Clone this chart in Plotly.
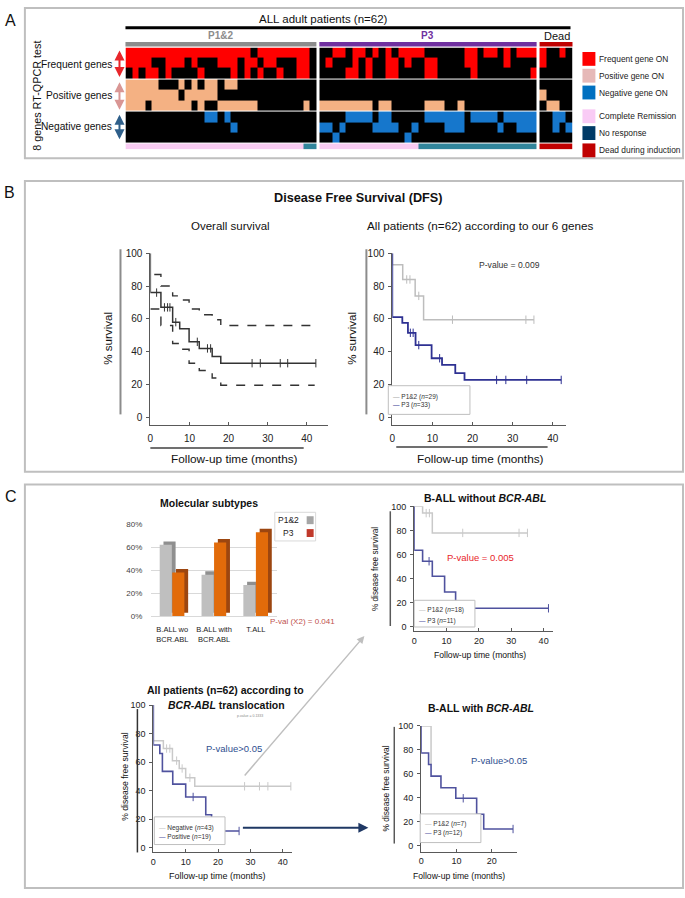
import plotly.graph_objects as go

W, H = 685, 898
NARROW = "Liberation Sans, Arial, sans-serif"
REG = "Liberation Sans, Arial, sans-serif"

# ============================ DATA ============================
# ---- Panel A: 8-gene RT-QPCR heatmap (1 = gene ON) ----
group_names = ["P1&2", "P3", "Dead"]
group_sizes = [29, 33, 5]

frequent_p12 = ["1111111111111111111 0 11111111 0",
                "1111 00 111 0 1 000 111 0 11 0 11 000 11 0",
                "0 1 0 11 0 1 0000 1 0000 1 0 1 0 1 00 1 00 11 0"]
positive_p12 = ["11111 000 1 0 1 0 11 0 11 000000000000",
                "11111111 0 11111 000000000000000",
                "111 0 111111 0 1 00 111111 0000000 1 0"]
negative_p12 = ["000000000000 11 0 1 0000000000000",
                "0000000000000000 1 000000000000",
                "00000000000000000000000000000"]

frequent_p3 = ["00 11 0 11 0 1 0 1 0 1111 000000 11 0 11 0 1 0 111",
               "0 1 000 1 0 1 00 11 0 1 00 11 0000 11 0000 1 0000",
               "0000 11 0 1 00 11 0000 11 00000 1 00000000 1"]
positive_p3 = ["000000000000000000000000000000000",
               "000000000000000000000000000000000",
               "11111111 0 11 00000 111 00 1 00000000000"]
negative_p3 = ["0000 1111 0 11 00000 111111 0 1111 0 11111",
               "11 0 1 0000 1111 00 1 0000 111 00000 1 00 111",
               "00 1 0000000000 1 0000000000000000000"]

frequent_dead = ["10010", "10000", "00000"]
positive_dead = ["00000", "10000", "01100"]
negative_dead = ["00110", "00101", "00000"]

# response to treatment: C = complete remission, N = no response, D = dead during induction
response_p12 = "C" * 27 + "N" * 2
response_p3 = "C" * 15 + "N" * 18
response_dead = "D" * 5

# ---- Panel B: Kaplan-Meier DFS ----
os_times = [0, 2.7, 5.7, 7.5, 9.9, 12.5, 15.8, 18.0]
os_surv = [76, 67, 58, 54, 46, 42, 37, 33]
os_end = 42.3
os_censor = [1.6, 3.6, 4.4, 5.0, 6.5, 12.0, 14.6, 15.4, 26.0, 28.1, 33.2, 35.1, 42.3]
os_ci_up_times = [1.0, 2.7, 5.7, 7.5, 9.9, 12.5, 15.8, 18.0]
os_ci_up_surv = [87, 80, 74, 71.5, 66, 62.5, 59.5, 56]
os_ci_up_end = 41.0
os_ci_lo_times = [0, 2.7, 5.7, 7.5, 9.9, 12.5, 15.8, 18.0]
os_ci_lo_surv = [66, 56, 45, 41.5, 33, 28.5, 24, 19.6]
os_ci_lo_end = 42.0

genes_p12_times = [0, 2.6, 5.7, 7.8]
genes_p12_surv = [93, 84, 74, 59.5]
genes_p12_end = 35.3
genes_p12_censor = [3.6, 4.4, 6.6, 15.0, 33.3, 35.3]
genes_p3_times = [0, 2.5, 3.9, 5.8, 9.8, 12.4, 15.7, 18.0]
genes_p3_surv = [61, 57.5, 51.5, 44, 36, 32, 27, 22.8]
genes_p3_end = 42.1
genes_p3_censor = [4.5, 5.2, 6.6, 11.8, 26.0, 28.3, 33.5, 42.1]

# ---- Panel C: molecular subtypes ----
subtype_labels = ["B.ALL wo<br>BCR.ABL", "B.ALL with<br>BCR.ABL", "T.ALL"]
subtype_p12 = [62, 36, 27]
subtype_p3 = [38, 64, 73]
pct_ticks = [0, 20, 40, 60, 80]

bcr_neg_times = [0, 3.1, 5.9, 8.0, 10.0, 12.8]
bcr_neg_surv = [75, 69.5, 61, 55.5, 49, 43]
bcr_neg_end = 42.5
bcr_neg_censor = [4.1, 5.1, 7.2, 8.9, 11.3, 28.2, 32.8, 35.4, 42.5]
bcr_pos_times = [0, 2.0, 2.8, 6.0, 10.0, 16.2, 18.0]
bcr_pos_surv = [72, 66, 53.5, 44.5, 35.5, 23, 11.6]
bcr_pos_end = 26.5
bcr_pos_censor = [12.3, 26.5]

wo_p12_times = [2.6, 5.6]
wo_p12_surv = [94.4, 78]
wo_p12_end = 35.0
wo_p12_censor = [3.7, 4.7, 15.0, 32.4, 35.0]
wo_p3_times = [0, 2.6, 5.6, 9.4, 12.8]
wo_p3_surv = [63.6, 54.5, 42, 29, 15.5]
wo_p3_end = 41.5
wo_p3_censor = [4.6, 41.5]

with_p12_times = [2.8]
with_p12_surv = [67.7]
with_p12_end = 2.8
with_p12_censor = []
with_p3_times = [0, 2.1, 2.8, 5.6, 9.8, 15.7, 17.7]
with_p3_surv = [77.3, 67.7, 58, 48.3, 39.5, 26.2, 13.8]
with_p3_end = 26.0
with_p3_censor = [11.9, 26.0]

# ============================ HELPERS ============================
def X(p):
    return p / W


def Y(p):
    return 1 - p / H


shapes = []
annotations = []


def rect(x0, y0, x1, y1, line="#BFBFBF", width=2, fill="rgba(0,0,0,0)"):
    shapes.append(dict(type="rect", xref="paper", yref="paper", x0=X(x0), x1=X(x1),
                       y0=Y(y1), y1=Y(y0), line=dict(color=line, width=width), fillcolor=fill))


def seg(x0, y0, x1, y1, color="#000", width=1.5):
    shapes.append(dict(type="line", xref="paper", yref="paper", x0=X(x0), x1=X(x1),
                       y0=Y(y0), y1=Y(y1), line=dict(color=color, width=width)))


def text(x, y, s, size, color="#111", anchor="center", angle=0, family=NARROW):
    annotations.append(dict(x=X(x), y=Y(y), xref="paper", yref="paper", text=s, showarrow=False,
                            xanchor=anchor, yanchor="middle", textangle=angle, borderpad=0,
                            font=dict(family=family, size=size, color=color)))


def arrow(x_head, y_head, x_tail, y_tail, color, width, both=False):
    annotations.append(dict(x=X(x_head), y=Y(y_head), xref="paper", yref="paper", text="",
                            showarrow=True, ax=x_tail - x_head, ay=y_tail - y_head,
                            axref="pixel", ayref="pixel", arrowhead=2, arrowsize=1,
                            arrowwidth=width, arrowcolor=color,
                            arrowside="end+start" if both else "end"))


fig = go.Figure()

# ============================ PANEL A ============================
COL_GAP = 0.45
xedges = [0.0]
group_span = []
for gi, n in enumerate(group_sizes):
    s0 = xedges[-1]
    for _ in range(n):
        xedges.append(xedges[-1] + 1.0)
    group_span.append((s0, xedges[-1]))
    if gi < len(group_sizes) - 1:
        xedges.append(xedges[-1] + COL_GAP)
ncols = len(xedges) - 1

gene_data = {
    "F": {"P1&2": frequent_p12, "P3": frequent_p3, "Dead": frequent_dead},
    "P": {"P1&2": positive_p12, "P3": positive_p3, "Dead": positive_dead},
    "N": {"P1&2": negative_p12, "P3": negative_p3, "Dead": negative_dead},
}
response = {"P1&2": response_p12, "P3": response_p3, "Dead": response_dead}
on_code = {"F": 1, "P": 2, "N": 3}
resp_code = {"C": 4, "N": 5, "D": 6}


def build_row(spec):
    if spec is None:
        return [None] * ncols
    kind, idx = spec
    vals = []
    for gi, g in enumerate(group_names):
        n = group_sizes[gi]
        if kind == "R":
            s = (response[g] + "C" * n)[:n]
            vals += [resp_code[ch] for ch in s]
        else:
            s = (gene_data[kind][g][idx].replace(" ", "") + "0" * n)[:n]
            vals += [on_code[kind] if ch == "1" else 0 for ch in s]
        if gi < len(group_names) - 1:
            vals.append(None)
    return vals


row_specs = [("R", 0), None, ("N", 2), ("N", 1), ("N", 0), None,
             ("P", 2), ("P", 1), ("P", 0), None, ("F", 2), ("F", 1), ("F", 0)]
row_h = [0.55, 0.12, 1, 1, 1, 0.15, 1, 1, 1, 0.15, 1, 1, 1]
yedges = [0.0]
for h in row_h:
    yedges.append(yedges[-1] + h)
z = [build_row(s) for s in row_specs]

cat_colors = ["#000000", "#FF0000", "#F4B183", "#1677CC", "#F8CBF2", "#31859B", "#C00000"]
cs = []
for k, c in enumerate(cat_colors):
    cs.append([k / len(cat_colors), c])
    cs.append([(k + 1) / len(cat_colors), c])

fig.add_trace(go.Heatmap(z=z, x=xedges, y=yedges, colorscale=cs, zmin=-0.5, zmax=6.5,
                         showscale=False, hoverinfo="skip", xaxis="x", yaxis="y"))

HX0, HX1 = 123, 572


def hx(u):
    return HX0 + u * (HX1 - HX0) / xedges[-1]


rect(22, 3, 683, 155)
text(8, 16, "A", 16, "#111", family=REG)
seg(hx(0), 23, hx(xedges[-1]) - 2, 23, "#000", 3)
text(322, 14, "ALL adult patients (n=62)", 11.5)
bar_cols = ["#8C8C8C", "#7030A0", "#C00000"]
lab_cols = ["#8C8C8C", "#7030A0", "#111"]
for gi, (s0, s1) in enumerate(group_span):
    rect(hx(s0), 37.5, hx(s1), 42, line=bar_cols[gi], width=0, fill=bar_cols[gi])
    if group_names[gi] == "Dead":
        text(hx((s0 + s1) / 2) + 1, 31, group_names[gi], 11, lab_cols[gi])
    else:
        text(hx((s0 + s1) / 2), 31, "<b>%s</b>" % group_names[gi], 10, lab_cols[gi])

text(34, 92, "8 genes RT-QPCR test", 10.8, angle=-90)
text(110, 60, "Frequent genes", 10.2, anchor="right")
text(110, 92, "Positive genes", 10.2, anchor="right")
text(110, 123, "Negative genes", 10.2, anchor="right")
arrow(117, 46, 117, 74, "#E8262B", 2, both=True)
arrow(117, 78, 117, 107, "#D99694", 2, both=True)
arrow(117, 111, 117, 137, "#2E5F8A", 2, both=True)

legA = [("Frequent gene ON", "#FF0000", 54.5), ("Positive gene ON", "#E6B9B8", 71.5),
        ("Negative gene ON", "#0070C0", 88.5), ("Complete Remission", "#F9CBF5", 112.5),
        ("No response", "#003A66", 129.5), ("Dead during induction", "#C00000", 147)]
for lab, col, yy in legA:
    rect(582, yy - 7, 595, yy + 7, line=col, width=0, fill=col)
    text(598, yy, lab, 8.4, "#222", anchor="left")

layout_axes = {
    "xaxis": dict(domain=[X(HX0), X(HX1)], range=[0, xedges[-1]], visible=False),
    "yaxis": dict(domain=[Y(146), Y(43)], range=[0, yedges[-1]], visible=False),
}


# ============================ KM helpers ============================
def km_axes(n, x0, ppm, xmax, y100, y0, ymin, xticks, tsize, lc="#595959", xstand=4):
    ppu = (y0 - y100) / 100.0
    ybot = y0 + (-ymin) * ppu
    tf = dict(family=NARROW, size=tsize, color="#222")
    layout_axes["xaxis%d" % n] = dict(domain=[X(x0), X(x0 + xmax * ppm)], range=[0, xmax],
                                     anchor="y%d" % n, showline=True, linecolor=lc, linewidth=1,
                                     ticks="inside", ticklen=3, tickcolor=lc, tickvals=xticks,
                                     showgrid=False, zeroline=False, tickfont=tf,
                                     ticklabelstandoff=xstand)
    layout_axes["yaxis%d" % n] = dict(domain=[Y(ybot), Y(y100)], range=[ymin, 100],
                                     anchor="x%d" % n, showline=True, linecolor=lc, linewidth=1,
                                     ticks="outside", ticklen=3, tickcolor=lc,
                                     tickvals=[0, 20, 40, 60, 80, 100], showgrid=False,
                                     zeroline=False, tickfont=tf, ticklabelstandoff=2)


def level_at(times, levels, t, start=100.0):
    v = start
    for ti, lv in zip(times, levels):
        if ti <= t:
            v = lv
    return v


def km_curve(n, times, levels, end, censor, color, width=1.5, dash="solid", start=100.0, from0=True):
    if from0:
        xs = [0.0] + list(times) + [end]
        ys = [start] + list(levels) + [levels[-1]]
    else:
        xs = list(times) + [end]
        ys = list(levels) + [levels[-1]]
    fig.add_trace(go.Scatter(x=xs, y=ys, mode="lines", line=dict(color=color, width=width,
                             dash=dash, shape="hv"), xaxis="x%d" % n, yaxis="y%d" % n,
                             cliponaxis=False, hoverinfo="skip"))
    if censor:
        fig.add_trace(go.Scatter(x=censor, y=[level_at(times, levels, t) for t in censor],
                                 mode="markers", marker=dict(symbol="line-ns", size=6,
                                 line=dict(width=1, color=color)),
                                 xaxis="x%d" % n, yaxis="y%d" % n, cliponaxis=False,
                                 hoverinfo="skip"))


def legend_box(x0, y0, x1, y1, entries, size):
    rect(x0, y0, x1, y1, line="#BFBFBF", width=1, fill="white")
    for lab, col, yy in entries:
        text(x0 + 4, yy, "<span style='color:%s'>\u2014</span> %s" % (col, lab), size,
             "#333", anchor="left")


# ============================ PANEL B ============================
rect(22, 178, 683, 472)
text(7, 190, "B", 16, "#111", family=REG)
text(357, 195, "<b>Disease Free Survival (DFS)</b>", 12.7)
text(229, 223, "Overall survival", 11.5)
text(480, 223, "All patients (n=62) according to our 6 genes", 11.7)

km_axes(2, 148, 3.93, 45.5, 251, 417, -4.5, [0, 10, 20, 30, 40], 10)
km_curve(2, os_ci_up_times, os_ci_up_surv, os_ci_up_end, [], "#333333", 1.4, "dash", from0=False)
km_curve(2, os_ci_lo_times, os_ci_lo_surv, os_ci_lo_end, [], "#333333", 1.4, "dash", from0=False)
km_curve(2, os_times, os_surv, os_end, os_censor, "#333333", 1.5)
seg(118, 247, 118, 414, "#8C8C8C", 2)
text(105, 337, "% survival", 11.6, angle=-90)
seg(148, 448, 302, 448, "#404040", 1.5)
text(233, 459, "Follow-up time (months)", 11.8)

km_axes(3, 391, 4.03, 43.3, 251, 417, -4.5, [0, 10, 20, 30, 40], 10)
km_curve(3, genes_p12_times, genes_p12_surv, genes_p12_end, genes_p12_censor, "#BDBDBD", 1.5)
km_curve(3, genes_p3_times, genes_p3_surv, genes_p3_end, genes_p3_censor, "#2E3192", 1.8)
seg(365, 247, 365, 414, "#8C8C8C", 2)
text(350, 337, "% survival", 11.6, angle=-90)
seg(395, 447, 547, 447, "#404040", 1.5)
text(480, 459, "Follow-up time (months)", 11.8)
text(509, 263, "P-value = 0.009", 8.6, "#333")
legend_box(387, 385, 469, 414, [("P1&2 (<i>n</i>=29)", "#A6A6A6", 396),
                                 ("P3 (<i>n</i>=33)", "#2E3192", 405)], 6.5)

# ============================ PANEL C ============================
rect(22, 485, 683, 893)
text(8, 497, "C", 16, "#111", family=REG)

# molecular subtypes bar chart
text(207, 504, "<b>Molecular subtypes</b>", 10.5)
idx = list(range(len(subtype_labels)))
for vals, front, side, off in [(subtype_p12, "#BFBFBF", "#8F8F8F", -0.3),
                               (subtype_p3, "#E26B0A", "#9C4610", 0.0)]:
    fig.add_trace(go.Bar(x=idx, y=vals, base=[3] * len(vals), offset=off + 0.09, width=0.29,
                         marker=dict(color=side, line=dict(width=0)), xaxis="x4", yaxis="y4",
                         hoverinfo="skip"))
    fig.add_trace(go.Bar(x=idx, y=vals, offset=off, width=0.29,
                         marker=dict(color=front, line=dict(width=0)), xaxis="x4", yaxis="y4",
                         hoverinfo="skip"))
layout_axes["xaxis4"] = dict(domain=[X(149), X(275)], range=[-0.5, 2.5], anchor="y4",
                             tickvals=idx, ticktext=subtype_labels, showline=True,
                             linecolor="#D9D9D9", showgrid=False, zeroline=False, ticks="",
                             tickangle=0,
                             tickfont=dict(family=NARROW, size=7.5, color="#222"),
                             ticklabelstandoff=6)
layout_axes["yaxis4"] = dict(domain=[Y(618), Y(525)], range=[0, 80], anchor="x4",
                             tickvals=pct_ticks, ticktext=["%d%%" % v for v in pct_ticks],
                             showgrid=True, gridcolor="#D9D9D9", zeroline=False,
                             showline=False, ticks="",
                             tickfont=dict(family=NARROW, size=8, color="#444"),
                             ticklabelstandoff=8)
rect(273, 513, 314, 542, line="#D9D9D9", width=1)
text(287, 521, "P1&2", 8.5, "#222")
rect(305, 517, 312, 525, line="#A6A6A6", width=0, fill="#A6A6A6")
text(287, 534, "P3", 8.5, "#222")
rect(305, 530, 312, 538, line="#C0392B", width=0, fill="#C0392B")
text(301, 623, "P-val (X2) = 0.041", 8, "#C0504D")

# all patients according to BCR-ABL
text(223, 693, "<b>All patients (n=62) according to</b>", 10.5)
text(224, 708, "<b><i>BCR-ABL</i> translocation</b>", 10.5)
text(248, 719, "p-value = 0.1333", 3.5, "#888")
km_axes(5, 151, 3.25, 42.8, 708, 852, -3.5, [0, 10, 20, 30, 40], 9, xstand=1)
km_curve(5, bcr_neg_times, bcr_neg_surv, bcr_neg_end, bcr_neg_censor, "#C9C9C9", 1.5)
km_curve(5, bcr_pos_times, bcr_pos_surv, bcr_pos_end, bcr_pos_censor, "#4F529E", 1.6)
seg(135, 712, 135, 857, "#333333", 1.5)
text(123, 780, "% disease free survival", 8.6, angle=-90)
text(232, 752, "P-value>0.05", 9.5, "#2F4F8F")
legend_box(152, 821, 223, 849, [("Negative (<i>n</i>=43)", "#BFBFBF", 832),
                                 ("Positive (<i>n</i>=19)", "#4F529E", 841)], 6.5)
text(215, 881, "Follow-up time (months)", 9)

# B-ALL without BCR-ABL
text(484, 499, "<b>B-ALL without <i>BCR-ABL</i></b>", 10.5)
km_axes(6, 413, 3.25, 43.0, 507, 629, -3.3, [0, 10, 20, 30, 40], 9, xstand=1)
km_curve(6, wo_p12_times, wo_p12_surv, wo_p12_end, wo_p12_censor, "#C9C9C9", 1.5)
km_curve(6, wo_p3_times, wo_p3_surv, wo_p3_end, wo_p3_censor, "#4F529E", 1.6)
seg(389, 512, 389, 628, "#595959", 1.5)
text(374, 570, "% disease free survival", 8.2, angle=-90)
text(480, 559, "P-value = 0.005", 9.5, "#E8262B")
legend_box(413, 602, 474, 629, [("P1&2 (<i>n</i>=18)", "#BFBFBF", 612),
                                 ("P3 (<i>n</i>=11)", "#4F529E", 623)], 6.5)
text(479, 657, "Follow-up time (months)", 8.6)

# B-ALL with BCR-ABL
text(480, 711, "<b>B-ALL with <i>BCR-ABL</i></b>", 10.5)
km_axes(7, 420, 3.55, 27.0, 729, 850, -5, [0, 10, 20], 9, xstand=1)
km_curve(7, with_p12_times, with_p12_surv, with_p12_end, with_p12_censor, "#C9C9C9", 1.5)
km_curve(7, with_p3_times, with_p3_surv, with_p3_end, with_p3_censor, "#4F529E", 1.6)
seg(393, 730, 393, 848, "#595959", 1.5)
text(385, 792, "% disease free survival", 8.4, angle=-90)
text(498, 764, "P-value>0.05", 9.5, "#2F4F8F")
legend_box(419, 818, 480, 847, [("P1&2 (<i>n</i>=7)", "#BFBFBF", 828),
                                 ("P3 (<i>n</i>=12)", "#4F529E", 837)], 6.5)
text(458, 881, "Follow-up time (months)", 8.6)

# connecting arrows
arrow(363, 638, 242, 779, "#BFBFBF", 1.5)
arrow(367, 832, 240, 832, "#1F3864", 2)

fig.update_layout(width=W, height=H, margin=dict(l=0, r=0, t=0, b=0),
                  paper_bgcolor="white", plot_bgcolor="rgba(0,0,0,0)",
                  showlegend=False, barmode="overlay", shapes=shapes,
                  annotations=annotations, font=dict(family=NARROW, color="#111"),
                  **layout_axes)

fig.write_html("out.html", config={"displayModeBar": False},
               post_script="document.body.style.margin='0';document.body.style.overflow='hidden';")
